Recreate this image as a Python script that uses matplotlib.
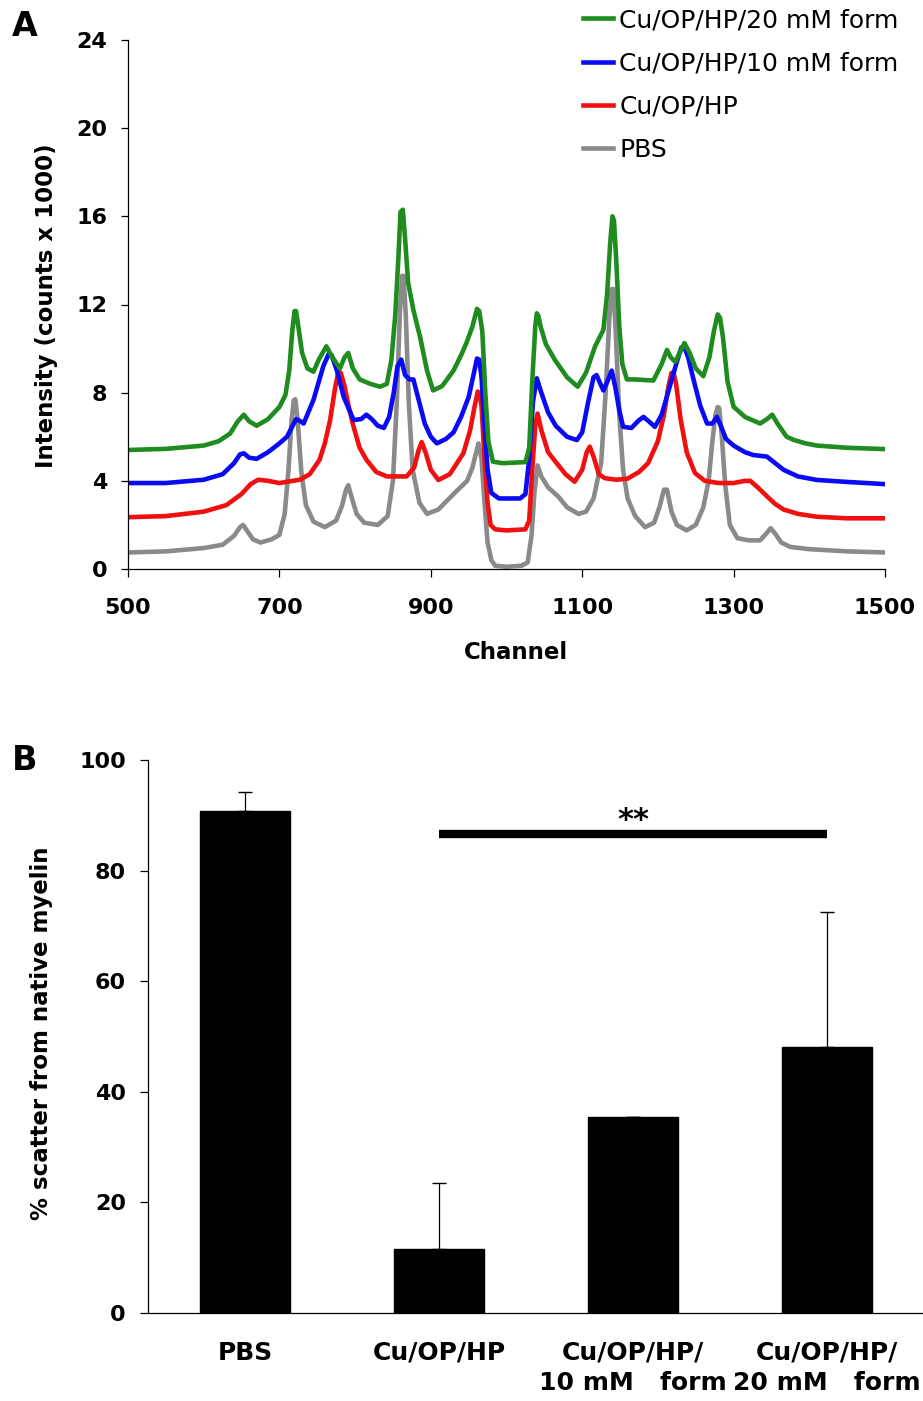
import matplotlib
matplotlib.use("Agg")
import matplotlib.pyplot as plt

# ---------------- Panel A data (channel, intensity x1000) ----------------
ch_pbs = [500, 550, 600, 625, 640, 648, 652, 658, 665, 675, 690, 700, 707, 712, 716, 719, 721, 724, 729, 735,
          745, 760, 775, 783, 788, 791, 795, 802, 812, 830, 843, 850, 855, 859, 862, 864, 867, 871, 876, 885, 895,
          910, 930, 948, 955, 960, 963, 967, 971, 975, 980, 985, 1000, 1020, 1028, 1033, 1037, 1041, 1046,
          1055, 1068, 1080, 1095, 1105, 1115, 1125, 1131, 1136, 1139, 1141, 1144, 1149, 1154, 1160, 1170, 1183,
          1195, 1202, 1208, 1212, 1218, 1225, 1238, 1250, 1260, 1267, 1272, 1276, 1279, 1281, 1284, 1289, 1295,
          1305, 1320, 1335, 1343, 1349, 1355, 1363, 1375, 1400, 1450, 1500]
y_pbs = [0.75, 0.8, 0.95, 1.1, 1.5, 1.9, 2.0, 1.7, 1.35, 1.2, 1.35, 1.55, 2.5, 4.5, 6.7, 7.65, 7.7, 6.8, 4.4, 2.9,
         2.15, 1.9, 2.2, 2.9, 3.6, 3.8, 3.3, 2.5, 2.1, 2.0, 2.4, 4.0, 7.5, 11.5, 13.3, 13.3, 11.5, 7.5, 4.5, 3.0, 2.5,
         2.7, 3.4, 4.0, 4.6, 5.3, 5.7, 5.0, 3.0, 1.2, 0.4, 0.15, 0.1, 0.15, 0.3, 1.5, 3.5, 4.7, 4.2,
         3.7, 3.3, 2.8, 2.5, 2.6, 3.2, 4.8, 8.0, 11.5, 12.7, 12.7, 11.0, 7.0, 4.5, 3.2, 2.4, 1.9,
         2.1, 2.8, 3.6, 3.6, 2.6, 2.0, 1.75, 2.0, 2.8, 4.0, 5.8, 7.0, 7.35, 7.3, 6.2, 3.8, 2.0,
         1.4, 1.3, 1.3, 1.6, 1.85, 1.6, 1.2, 1.0, 0.9, 0.8, 0.75]

ch_cu = [500, 550, 600, 630, 650, 662, 672, 685, 700, 727, 740, 753, 760, 767, 774, 778, 781, 786, 792, 798,
         806, 815, 828, 842, 868, 878, 884, 888, 893, 900, 910, 925, 943, 952, 958, 962, 964, 967, 971, 975,
         979, 985, 1000, 1025, 1030, 1034, 1038, 1041, 1046, 1055, 1064, 1078, 1090, 1100, 1106, 1110,
         1115, 1122, 1130, 1145, 1160, 1175, 1187, 1200, 1208, 1214, 1218, 1221, 1224, 1230, 1238, 1249, 1262,
         1280, 1300, 1315, 1322, 1332, 1344, 1355, 1366, 1385, 1410, 1450, 1500]
y_cu = [2.35, 2.4, 2.6, 2.9, 3.4, 3.85, 4.05, 4.0, 3.9, 4.05, 4.3, 4.95, 5.7, 6.76, 8.3, 8.95, 8.9, 8.3, 7.3, 6.45,
        5.5, 4.95, 4.4, 4.2, 4.2, 4.6, 5.4, 5.76, 5.3, 4.5, 4.04, 4.3, 5.25, 6.3, 7.4, 8.05, 8.0, 7.4, 5.0, 3.0,
        2.0, 1.8, 1.75, 1.8, 2.2, 4.5, 6.5, 7.05, 6.3, 5.3, 4.9, 4.3, 3.96, 4.5, 5.3, 5.55,
        5.1, 4.3, 4.12, 4.05, 4.1, 4.4, 4.8, 5.8, 7.0, 8.3, 8.9, 8.85, 8.4, 6.8, 5.3, 4.35, 4.0,
        3.9, 3.9, 4.0, 4.0, 3.7, 3.3, 2.95, 2.7, 2.5, 2.37, 2.3, 2.3]

ch_10 = [500, 550, 600, 625, 640, 648, 653, 660, 670, 685, 700, 710, 716, 722, 728, 732, 745, 758, 765, 769,
         776, 785, 798, 808, 815, 822, 830, 838, 845, 851, 856, 861, 866, 872, 877, 883, 892, 900, 908,
         920, 930, 940, 950, 957, 961, 964, 967, 970, 975, 980, 990, 1018, 1025, 1030, 1035, 1040, 1046, 1055,
         1065, 1080, 1093, 1100, 1108, 1115, 1119, 1124, 1128, 1132, 1139, 1144, 1149, 1154, 1165, 1175,
         1181, 1188, 1196, 1205, 1215, 1225, 1231, 1235, 1240, 1247, 1256, 1265, 1272, 1278, 1283, 1290, 1300,
         1315, 1326, 1344, 1355, 1366, 1385, 1410, 1450, 1500]
y_10 = [3.9, 3.9, 4.05, 4.3, 4.8, 5.2, 5.25, 5.05, 5.0, 5.3, 5.7, 6.0, 6.4, 6.8, 6.7, 6.6, 7.67, 9.2, 9.75, 9.7,
        9.0, 7.8, 6.76, 6.8, 7.0, 6.8, 6.5, 6.4, 6.9, 8.0, 9.2, 9.5, 8.8, 8.6, 8.6, 7.8, 6.6, 6.0, 5.7,
        5.9, 6.2, 6.9, 7.8, 8.9, 9.55, 9.5, 8.7, 7.0, 4.5, 3.45, 3.2, 3.2, 3.4, 5.0, 7.6, 8.65, 8.0, 7.1,
        6.5, 6.0, 5.85, 6.2, 7.6, 8.7, 8.8, 8.4, 8.1, 8.4, 9.0, 8.2, 7.2, 6.45, 6.4, 6.75,
        6.9, 6.7, 6.45, 7.0, 8.2, 9.4, 10.05, 10.05, 9.6, 8.6, 7.4, 6.6, 6.6, 6.9, 6.5, 5.9, 5.6,
        5.3, 5.17, 5.1, 4.8, 4.5, 4.2, 4.04, 3.95, 3.85]

ch_20 = [500, 550, 600, 620, 635, 645, 653, 660, 670, 685, 700, 708, 713, 717, 720, 722, 725, 730, 737, 745,
         752, 762, 770, 780, 786, 791, 797, 806, 820, 833, 842, 848, 853, 857, 860, 863, 866, 870, 877, 886,
         895, 903, 915, 930, 940, 947, 955, 961, 964, 968, 972, 976, 982, 995, 1025, 1030, 1034, 1038, 1040, 1042,
         1045, 1052, 1064, 1080, 1094, 1105, 1117, 1128, 1133, 1137, 1140, 1142, 1145, 1149, 1153, 1159, 1170,
         1194, 1205, 1212, 1217, 1223, 1230, 1235, 1242, 1250, 1260, 1268, 1274, 1279, 1282, 1286, 1292, 1300,
         1315, 1335, 1344, 1351, 1358, 1370, 1380, 1395, 1410, 1450, 1500]
y_20 = [5.4, 5.45, 5.6, 5.8, 6.15, 6.7, 7.0, 6.7, 6.5, 6.8, 7.35, 7.9, 9.0, 10.8, 11.7, 11.7, 11.0, 9.8, 9.1, 8.95,
        9.5, 10.1, 9.6, 9.1, 9.6, 9.8, 9.1, 8.6, 8.4, 8.27, 8.4, 9.5, 11.5, 14.0, 16.2, 16.3, 15.0, 13.0, 11.75, 10.5,
        9.0, 8.1, 8.3, 9.0, 9.7, 10.25, 11.0, 11.8, 11.7, 10.8, 8.0, 5.8, 4.87, 4.8, 4.85, 5.5, 8.5, 11.0, 11.6, 11.5,
        11.0, 10.2, 9.48, 8.7, 8.27, 8.9, 10.1, 10.85, 12.5, 14.8, 16.0, 15.8, 14.0, 11.0, 9.3, 8.6, 8.6,
        8.55, 9.3, 9.94, 9.6, 9.4, 9.9, 10.25, 9.8, 9.1, 8.75, 9.6, 10.8, 11.55, 11.4, 10.5, 8.5, 7.36,
        6.9, 6.6, 6.8, 7.0, 6.6, 6.0, 5.85, 5.7, 5.6, 5.5, 5.44]

legend_labels = ["Cu/OP/HP/20 mM form", "Cu/OP/HP/10 mM form", "Cu/OP/HP", "PBS"]
xticks_a = [500, 700, 900, 1100, 1300, 1500]
yticks_a = [0, 4, 8, 12, 16, 20, 24]

# ---------------- Panel B data ----------------
categories = ["PBS", "Cu/OP/HP", "Cu/OP/HP/\n10 mM   form", "Cu/OP/HP/\n20 mM   form"]
values = [90.8, 11.6, 35.4, 48.1]
errors = [3.4, 11.9, 0.0, 24.4]
yticks_b = [0, 20, 40, 60, 80, 100]
sig_level = 86.6

plt.rcParams['font.family'] = ['DejaVu Sans']
plt.rcParams['font.weight'] = 'bold'

W, H = 923, 1401
fig = plt.figure(figsize=(W / 100, H / 100), dpi=100)

# ---------------- Panel A ----------------
axA = fig.add_axes([128 / W, 1 - 569 / H, (885 - 128) / W, (569 - 40) / H])
lw = 3.3
l_pbs, = axA.plot(ch_pbs, y_pbs, color='#8a8a8a', lw=lw, solid_joinstyle='round')
l_cu, = axA.plot(ch_cu, y_cu, color='#f01010', lw=lw, solid_joinstyle='round')
l_10, = axA.plot(ch_10, y_10, color='#0a0af5', lw=lw, solid_joinstyle='round')
l_20, = axA.plot(ch_20, y_20, color='#1e8c1e', lw=lw, solid_joinstyle='round')

axA.set_xlim(500, 1500)
axA.set_ylim(0, 24)
axA.set_xticks(xticks_a)
axA.set_yticks(yticks_a)
for s in ['top', 'right']:
    axA.spines[s].set_visible(False)
for s in ['left', 'bottom']:
    axA.spines[s].set_linewidth(0.9)
axA.tick_params(axis='x', direction='out', length=6, width=0.9, labelsize=16, pad=15)
axA.tick_params(axis='y', direction='out', length=5, width=0.9, labelsize=16, pad=10)
axA.set_xlabel('Channel', fontsize=16.5, fontweight='bold')
axA.xaxis.set_label_coords(0.5125, -0.136)
axA.set_ylabel('Intensity (counts x 1000)', fontsize=16.5, fontweight='bold')
axA.yaxis.set_label_coords(-0.093, 0.497)

axA.legend(handles=[l_20, l_10, l_cu, l_pbs], labels=legend_labels, loc='upper left',
           bbox_to_anchor=(583 / W, 1 - 8 / H), bbox_transform=fig.transFigure,
           frameon=False, prop={'size': 18, 'weight': 'normal'}, handlelength=1.2,
           handletextpad=0.25, labelspacing=0.77, borderpad=0, borderaxespad=0)

fig.text(12 / W, 1 - 10 / H, 'A', fontsize=24, fontweight='bold', ha='left', va='top')

# ---------------- Panel B ----------------
axB = fig.add_axes([148 / W, 1 - 1313 / H, (924 - 148) / W, (1313 - 760) / H])
x = list(range(len(categories)))
axB.bar(x, values, width=0.465, color='black', edgecolor='black', zorder=2)
axB.errorbar(x, values, yerr=[[0] * len(errors), errors], fmt='none', ecolor='black',
             elinewidth=0.9, capsize=5, capthick=1.0, zorder=1)
axB.plot([1, 3], [sig_level, sig_level], color='black', lw=6, solid_capstyle='butt')
axB.text(2, sig_level + 0.9, '**', fontsize=22, fontweight='bold', ha='center', va='baseline')

axB.set_xlim(-0.5, 3.5)
axB.set_ylim(0, 100)
axB.set_yticks(yticks_b)
axB.set_xticks(x)
axB.set_xticklabels(categories, fontsize=18, fontweight='bold', linespacing=1.35)
for s in ['top', 'right']:
    axB.spines[s].set_visible(False)
for s in ['left', 'bottom']:
    axB.spines[s].set_linewidth(0.9)
axB.tick_params(axis='x', length=0, pad=20)
axB.tick_params(axis='y', direction='out', length=6, width=0.9, labelsize=16, pad=10)
axB.set_ylabel('% scatter from native myelin', fontsize=16.5, fontweight='bold')
axB.yaxis.set_label_coords(-0.122, 0.505)

fig.text(12 / W, 1 - 744 / H, 'B', fontsize=24, fontweight='bold', ha='left', va='top')

fig.savefig('out.png', dpi=100)
